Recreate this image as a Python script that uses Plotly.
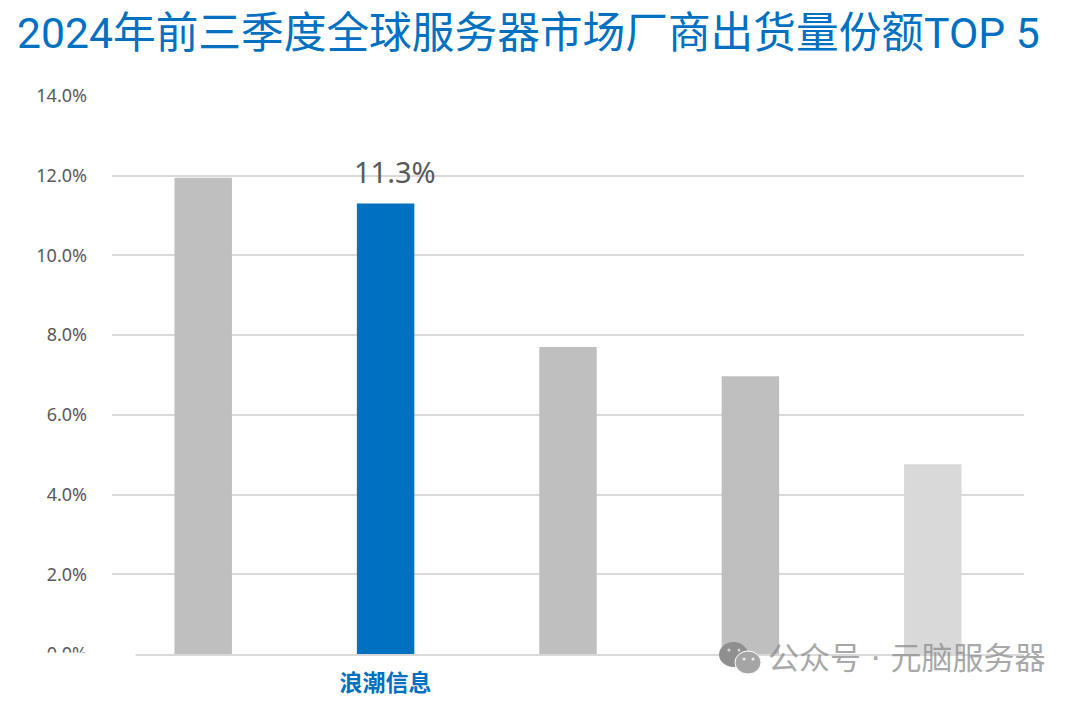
import plotly.graph_objects as go

TITLE = "2024年前三季度全球服务器市场厂商出货量份额TOP 5"
categories = ["A", "浪潮信息", "C", "D", "E"]
tick_labels = ["", "<b>浪潮信息</b>", "", "", ""]
shares = [11.95, 11.3, 7.7, 6.97, 4.76]
bar_colors = ["#bfbfbf", "#0070c0", "#bfbfbf", "#bfbfbf", "#d9d9d9"]
y_ticks = [0, 2, 4, 6, 8, 10, 12, 14]
y_labels = ["0.0%", "2.0%", "4.0%", "6.0%", "8.0%", "10.0%", "12.0%", "14.0%"]
HIGHLIGHT_LABEL = "11.3%"
WATERMARK = "公众号 · 元脑服务器"

# the page body has an 8px margin, so the figure starts at (8, 8)
OFF = 8
W, H = 1080, 702
L, R, T, B = 112, 1024, 95, 654
fx = lambda x: (x - L) / (R - L)
fy = lambda y: (B - y) / (B - T)

fig = go.Figure(go.Bar(
    x=categories, y=shares, width=0.315,
    marker=dict(color=bar_colors, line_width=0),
    hoverinfo="skip",
))
fig.update_layout(
    width=W - OFF, height=H - OFF, autosize=False, showlegend=False,
    paper_bgcolor="white", plot_bgcolor="white",
    margin=dict(l=L - OFF, r=W - R, t=T - OFF, b=H - B, pad=0, autoexpand=False),
    xaxis=dict(type="category", categoryorder="array", categoryarray=categories,
               tickmode="array", tickvals=categories, ticktext=tick_labels,
               tickfont=dict(family="Noto Sans CJK SC", size=23, color="#0070c0"),
               showgrid=False, ticks="", ticklen=0, ticklabelstandoff=8, zeroline=False,
               showline=True, linecolor="#d9d9d9", linewidth=1.5),
    yaxis=dict(range=[0, 14.025], tickmode="array", tickvals=y_ticks, ticktext=y_labels,
               tickfont=dict(family="Noto Sans", size=18, color="#595959"),
               ticklabelstandoff=24,
               gridcolor="#d9d9d9", gridwidth=1.5, zeroline=False, ticks="", showline=False),
)
fig.layout.annotations = [
    dict(text=TITLE, xref="paper", yref="paper", x=fx(15), y=fy(33.5), xanchor="left", yanchor="middle",
         showarrow=False, font=dict(family="Roboto, Noto Sans CJK SC", size=42.7, color="#0070c0")),
    dict(text=HIGHLIGHT_LABEL, x=categories[1], y=shares[1], xref="x", yref="y", xshift=9, yshift=11,
         yanchor="bottom", showarrow=False, font=dict(family="Noto Sans", size=29, color="#595959")),
    # white patch that hides the lower part of the 0.0% label, as in the reference
    dict(text=" ", xref="paper", yref="paper", x=fx(20), y=fy(652), xanchor="left", yanchor="top",
         showarrow=False, bgcolor="white", width=114, height=22, borderpad=0, font=dict(size=14)),
    dict(text=WATERMARK, xref="paper", yref="paper", x=fx(766), y=fy(658), xanchor="left", yanchor="middle",
         showarrow=False, opacity=0.75,
         font=dict(family="DejaVu Sans, Noto Sans CJK SC", size=31, color="#8c8c8c")),
]


def dot(cx, cy, r, color):
    return dict(type="circle", xref="paper", yref="paper", x0=fx(cx - r), x1=fx(cx + r),
                y0=fy(cy + r), y1=fy(cy - r), fillcolor=color, line_width=0, layer="above")


fig.layout.shapes = [
    # WeChat style watermark icon
    dict(type="circle", xref="paper", yref="paper", x0=fx(719), x1=fx(748), y0=fy(667), y1=fy(642),
         fillcolor="#8f8f8f", line_width=0, layer="above"),
    dot(729, 650, 1.5, "#d8d8d8"), dot(739, 650, 1.5, "#d8d8d8"),
    dict(type="circle", xref="paper", yref="paper", x0=fx(735), x1=fx(761), y0=fy(674), y1=fy(651),
         fillcolor="#a5a5a5", line=dict(color="white", width=1), layer="above"),
    dot(744, 659, 1.5, "#ececec"), dot(753, 659, 1.5, "#ececec"),
    # faint edge left by the patch in the reference
    dict(type="line", xref="paper", yref="paper", x0=fx(134), x1=fx(134), y0=fy(662), y1=fy(654),
         line=dict(color="#d9d9d9", width=1), layer="above"),
]
fig.write_html("out.html")
